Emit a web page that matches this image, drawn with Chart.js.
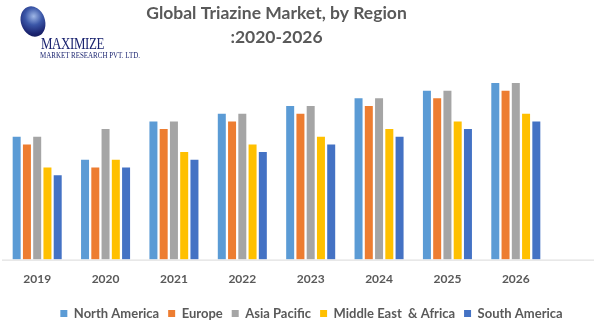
<!DOCTYPE html>
<html>
<head>
<meta charset="utf-8">
<script src="https://cdn.jsdelivr.net/npm/chart.js@4.4.0/dist/chart.umd.min.js"></script>
<style>
  html, body { margin: 0; padding: 0; background: #fff; }
  #wrap { position: relative; width: 594px; height: 327px; }
  #logo { position: absolute; left: 0; top: 0; width: 150px; height: 60px; pointer-events: none; }
  .globe {
    position: absolute; left: 21px; top: 6px; width: 24px; height: 31px;
    border-radius: 50%; transform: rotate(-20deg);
    background: radial-gradient(circle at 60% 35%, #9fb7e6 0%, #3b57a8 35%, #1b2470 70%, #10144a 100%);
  }
  .brand {
    position: absolute; left: 41px; top: 34px; font-family: "Liberation Serif", serif;
    color: #1b2470; font-size: 17px; letter-spacing: -0.5px; transform: scaleX(0.76); transform-origin: left;
  }
  .sub {
    position: absolute; left: 40px; top: 50px; font-family: "Liberation Serif", serif;
    color: #1b2470; font-size: 8.5px; white-space: nowrap; transform: scaleX(0.82); transform-origin: left;
  }
</style>
</head>
<body>
<div id="wrap">
  <canvas id="chart" width="594" height="327"></canvas>
  <div id="logo">
    <div class="globe"></div>
    <div class="brand">MAXIMIZE</div>
    <div class="sub">MARKET RESEARCH PVT. LTD.</div>
  </div>
</div>
<script>
const years = ['2019', '2020', '2021', '2022', '2023', '2024', '2025', '2026'];

const northAmerica = [16, 13, 18, 19, 20, 21, 22, 23];
const europe       = [15, 12, 17, 18, 19, 20, 21, 22];
const asiaPacific  = [16, 17, 18, 19, 20, 21, 22, 23];
const middleEast   = [12, 13, 14, 15, 16, 17, 18, 19];
const southAmerica = [11, 12, 13, 14, 15, 16, 17, 18];

const seriesNames  = ['North America', 'Europe', 'Asia Pacific', 'Middle East  & Africa', 'South America'];
const seriesColors = ['#5B9BD5', '#ED7D31', '#A5A5A5', '#FFC000', '#4472C4'];
const seriesData   = [northAmerica, europe, asiaPacific, middleEast, southAmerica];

const textColor = '#595959';
const fontFamily = 'Lato, "Open Sans", sans-serif';

// axis line runs across the whole picture, past the plot area
const axisLine = {
  id: 'axisLine',
  afterDraw(chart) {
    const {ctx, chartArea} = chart;
    ctx.save();
    ctx.strokeStyle = '#d9d9d9';
    ctx.lineWidth = 1;
    ctx.beginPath();
    ctx.moveTo(chartArea.left - 1, chartArea.bottom + 0.5);
    ctx.lineTo(chart.width, chartArea.bottom + 0.5);
    ctx.stroke();
    ctx.restore();
  }
};

// legend sits a bit right of the plot centre and a touch lower in the original
const legendShift = {
  id: 'legendShift',
  afterLayout(chart) {
    const lg = chart.legend;
    lg.left += 35;
    lg.right += 35;
    lg.top += 3;
    lg.bottom += 3;
  }
};

new Chart(document.getElementById('chart'), {
  type: 'bar',
  data: {
    labels: years,
    datasets: seriesData.map((d, i) => ({
      label: seriesNames[i],
      data: d,
      backgroundColor: seriesColors[i],
      borderWidth: 0,
      barPercentage: 0.78,
      categoryPercentage: 0.75
    }))
  },
  options: {
    responsive: false,
    animation: false,
    layout: { padding: { left: 3, right: 44, top: 0, bottom: 0 } },
    plugins: {
      tooltip: { enabled: false },
      title: {
        display: true,
        text: ['Global Triazine Market, by Region', ':2020-2026'],
        color: textColor,
        font: { family: fontFamily, size: 17.5, weight: 'bold', lineHeight: 1.37 },
        padding: { top: 1, bottom: 11 }
      },
      legend: {
        position: 'bottom',
        labels: {
          color: textColor,
          boxWidth: 7,
          boxHeight: 7,
          padding: 9,
          font: { family: fontFamily, size: 13, weight: 'bold' }
        }
      }
    },
    scales: {
      x: {
        grid: { display: false, drawTicks: false },
        border: { display: false },
        ticks: {
          color: textColor,
          padding: 12,
          font: { family: fontFamily, size: 12, weight: 'bold' }
        },
        afterFit: (scale) => { scale.height -= 3; }
      },
      y: {
        display: false,
        min: 0,
        max: 26
      }
    }
  },
  plugins: [axisLine, legendShift]
});
</script>
</body>
</html>
